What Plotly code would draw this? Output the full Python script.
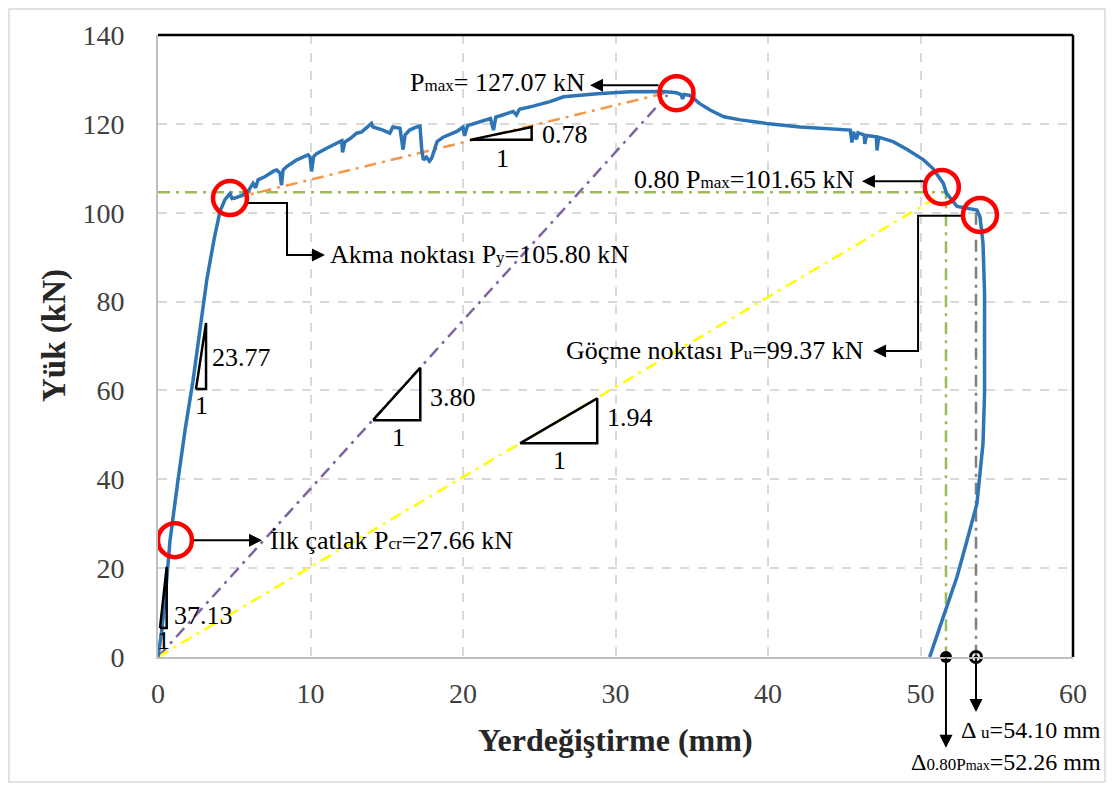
import plotly.graph_objects as go

# ---------------- data ----------------
disp = [0, 0.25, 0.46, 0.79, 1.31, 1.77, 2.3, 2.75, 3.2, 3.67, 4.07, 4.4, 4.72, 4.85, 5.05, 5.49, 5.9,
        6.23, 6.4, 6.56, 7.0, 7.6, 7.78, 8.0, 8.1, 8.2, 8.44, 9.1, 9.84, 9.97, 10.07, 10.2, 10.4,
        11.06, 11.93, 12.05, 12.1, 12.25, 12.6, 13.03, 13.36, 14.0, 14.1, 14.75, 15.2, 15.4, 15.87,
        16.07, 16.2, 16.5, 16.96, 17.18, 17.3, 17.4, 17.6, 17.8, 17.95, 18.3, 18.7, 19.6, 20.0, 20.1,
        20.3, 20.9, 21.8, 22.0, 22.15, 22.6, 23.3, 23.5, 23.7, 24.6, 25.7, 26.6, 28.8, 30.95, 33.1,
        34.0, 34.3, 34.4, 34.5, 34.9, 35.5, 36.2, 37.1, 38.2, 39.9, 42.1, 44.3, 45.4, 45.5, 45.6,
        45.8, 45.9, 46.3, 46.35, 46.45, 47.1, 47.15, 47.25, 48.2, 49.1, 50.2, 50.8, 51.5, 51.7, 52.4,
        53.0, 53.7, 53.9, 54.1, 54.2, 54.2, 54.1, 53.9, 53.7, 53.0, 52.4, 51.5, 50.6]
load = [0, 6, 12.8, 26.3, 39.8, 51, 62.3, 73.6, 84.9, 93.9, 100.4, 103.0, 104.3, 103.2, 103.3, 103.9, 104.8,
        106.6, 105.6, 107.4, 108.1, 109.4, 109.6, 108.9, 106.2, 109.6, 110.4, 111.9, 113.0, 112.5, 109.3, 112.6, 113.3,
        114.5, 116.0, 116.2, 113.6, 115.9, 116.7, 117.9, 118.2, 120.1, 119.3, 118.6, 117.9, 119.3, 119.0,
        114.2, 117.5, 118.6, 119.3, 119.5, 114.0, 111.9, 112.5, 111.6, 112.3, 116.0, 117.0, 118.3, 119.3, 117.3,
        119.6, 120.3, 121.2, 118.6, 121.5, 122.0, 122.8, 122.0, 123.3, 124.0, 125.0, 126.1, 126.8, 127.2, 127.3,
        127.0, 126.6, 125.6, 126.6, 126.4, 124.6, 123.1, 121.6, 120.9, 120.1, 119.3, 118.9, 118.6, 115.8, 118.2,
        116.5, 118.0, 117.5, 115.5, 117.4, 117.1, 114.0, 117.0, 116.0, 114.3, 111.9, 110.0, 106.6, 104.4, 101.4,
        101.0, 100.6, 99.1, 93.1, 81.9, 59.4, 48.1, 40.6, 34.5, 25.6, 18.1, 9.1, 0]

x_ticks = [0, 10, 20, 30, 40, 50, 60]
y_ticks = [0, 20, 40, 60, 80, 100, 120, 140]

# key points
pt_x = [1.11, 4.72, 34.0, 51.4, 53.9]
pt_y = [26.3, 103.3, 126.9, 105.8, 99.5]

# reference lines
orange_x = [4.94, 33.7]
orange_y = [103.2, 127.3]
purple_x = [0, 33.4]
purple_y = [0, 126.5]
yellow_x = [0, 50.95]
yellow_y = [0, 103.2]
d08_x = 51.67      # position of 0.80Pmax vertical line
du_x = 53.64       # position of ultimate vertical line
h08_y = 104.6      # 0.80Pmax horizontal line level
du_top = 100.0

# slope triangles: (x0, x1, y0, y1)
triangles = [(0.13, 0.57, 6.5, 20.3), (2.49, 3.15, 60.3, 75.2), (14.1, 17.2, 53.3, 65.1),
             (23.74, 28.8, 48.1, 58.2), (20.46, 24.5, 116.4, 119.3)]
tri_labels = ["37.13", "23.77", "3.80", "1.94", "0.78"]
tri_label_pos = [(0.92, 9.45), (3.41, 67.5), (17.7, 58.3), (29.31, 53.8), (25.05, 117.7)]
one_pos = [(0.33, 3.8), (2.82, 56.7), (15.74, 49.3), (26.36, 44.3), (22.62, 112.3)]

SERIF = "Liberation Serif, Times New Roman, serif"
FS = 26
def small(t, s=17):
    return f"<span style='font-size:{s}px'>{t}</span>"

fig = go.Figure()
dd = "12px,6px,3px,6px"

# guide lines
fig.add_trace(go.Scatter(x=[0, d08_x, d08_x], y=[h08_y, h08_y, 0], mode="lines",
                         line=dict(color="#9BBB59", width=2.5, dash=dd), hoverinfo="skip"))
fig.add_trace(go.Scatter(x=[du_x, du_x], y=[du_top, 0], mode="lines",
                         line=dict(color="#7F7F7F", width=2.5, dash=dd), hoverinfo="skip"))
fig.add_trace(go.Scatter(x=purple_x, y=purple_y, mode="lines",
                         line=dict(color="#8064A2", width=2.5, dash=dd), hoverinfo="skip"))
fig.add_trace(go.Scatter(x=yellow_x, y=yellow_y, mode="lines",
                         line=dict(color="#FFFF00", width=2.5, dash=dd), hoverinfo="skip"))
fig.add_trace(go.Scatter(x=orange_x, y=orange_y, mode="lines",
                         line=dict(color="#F79646", width=2.5, dash=dd), hoverinfo="skip"))

# main curve
fig.add_trace(go.Scatter(x=disp, y=load, mode="lines",
                         line=dict(color="#2E75B6", width=3.5), hoverinfo="skip"))

# triangles
for (x0, x1, y0, y1) in triangles:
    fig.add_trace(go.Scatter(x=[x0, x1, x1, x0], y=[y0, y0, y1, y0], mode="lines",
                             line=dict(color="black", width=2.5), hoverinfo="skip"))

# connectors
fig.add_trace(go.Scatter(x=[5.84, 8.46, 8.46, 10.5], y=[102.2, 102.2, 90.5, 90.5], mode="lines",
                         line=dict(color="black", width=2), hoverinfo="skip"))
fig.add_trace(go.Scatter(x=[52.79, 49.84, 49.84, 47.3], y=[99.3, 99.3, 68.9, 68.9], mode="lines",
                         line=dict(color="black", width=2), hoverinfo="skip"))

# red circles
fig.add_trace(go.Scatter(x=pt_x, y=pt_y, mode="markers",
                         marker=dict(symbol="circle-open", size=34, color="#FF0000",
                                     line=dict(width=4.5, color="#FF0000")), hoverinfo="skip"))

# bottom dots
fig.add_trace(go.Scatter(x=[d08_x], y=[0], mode="markers", cliponaxis=False,
                         marker=dict(symbol="circle", size=12, color="black"), hoverinfo="skip"))
fig.add_trace(go.Scatter(x=[du_x], y=[0], mode="markers", cliponaxis=False,
                         marker=dict(symbol="circle-open-dot", size=11, color="black",
                                     line=dict(width=3, color="black")), hoverinfo="skip"))

ann = []
def txt(x, y, t, xa="left", xref="x", yref="y", size=FS):
    ann.append(dict(x=x, y=y, xref=xref, yref=yref, text=t, showarrow=False, xanchor=xa,
                    yanchor="middle", font=dict(family=SERIF, size=size, color="black")))
def arrow(x, y, axv, ayv):
    ann.append(dict(x=x, y=y, xref="x", yref="y", ax=axv, ay=ayv, axref="x", ayref="y", text="",
                    showarrow=True, arrowhead=2, arrowsize=1.3, arrowwidth=2, arrowcolor="black"))

arrow(6.82, 26.3, 2.23, 26.3)
arrow(10.95, 90.5, 8.46, 90.5)
arrow(28.33, 128.7, 32.92, 128.7)
arrow(46.16, 107.1, 50.3, 107.1)
arrow(46.89, 68.9, 49.84, 68.9)

# arrows below axis
for xv, yp, dy in [(d08_x, -0.146, -91), (du_x, -0.0884, -55)]:
    ann.append(dict(x=xv, y=yp, xref="x", yref="paper", ax=0, ay=dy, text="", showarrow=True,
                    arrowhead=2, arrowsize=1.3, arrowwidth=2, arrowcolor="black"))

txt(7.21, 26.3, "İlk çatlak P" + small("cr") + "=27.66 kN")
txt(11.15, 90.5, "Akma noktası P" + small("y") + "=105.80 kN")
txt(28.13, 129.3, "P" + small("max") + "= 127.07 kN", xa="right")
txt(45.77, 107.4, "0.80 P" + small("max") + "=101.65 kN", xa="right")
txt(46.43, 69.1, "Göçme noktası P" + small("u") + "=99.37 kN", xa="right")
txt(1.0328, -0.117, "Δ " + small("u") + "=54.10 mm", xa="right", xref="paper", yref="paper", size=24)
txt(1.0328, -0.169, "Δ" + small("0.80P") + small("max", 14) + "=52.26 mm", xa="right", xref="paper",
    yref="paper", size=24)

for lab, (lx, ly) in zip(tri_labels, tri_label_pos):
    txt(lx, ly, lab)
for (ox, oy) in one_pos:
    txt(ox, oy, "1", xa="center")

# axis titles
ann.append(dict(x=0.5, y=-0.1334, xref="paper", yref="paper", text="<b>Yerdeğiştirme (mm)</b>",
                showarrow=False, xanchor="center", yanchor="middle",
                font=dict(family=SERIF, size=32, color="#262626")))
ann.append(dict(x=-0.1126, y=0.5177, xref="paper", yref="paper", text="<b>Yük (kN)</b>",
                showarrow=False, xanchor="center", yanchor="middle", textangle=-90,
                font=dict(family=SERIF, size=33, color="#262626")))

shapes = [
    dict(type="line", xref="paper", yref="paper", x0=0, x1=1, y0=1, y1=1, line=dict(color="black", width=2.5)),
    dict(type="line", xref="paper", yref="paper", x0=1, x1=1, y0=0, y1=1, line=dict(color="black", width=2.5)),
    dict(type="rect", xref="paper", yref="paper", x0=-0.1628, x1=1.035, y0=-0.201, y1=1.0418,
         line=dict(color="#D9D9D9", width=1.5)),
]

fig.update_layout(
    width=1098, height=775, margin=dict(l=150, r=33, t=27, b=126),
    paper_bgcolor="white", plot_bgcolor="white", showlegend=False,
    annotations=ann, shapes=shapes,
    xaxis=dict(range=[0, 60], tickvals=x_ticks, showgrid=True, gridcolor="#D9D9D9", griddash="dash",
               gridwidth=1.5, zeroline=False, showline=True, linecolor="#BFBFBF", linewidth=2,
               ticks="", ticklabelstandoff=10, tickfont=dict(family=SERIF, size=28, color="#404040")),
    yaxis=dict(range=[0, 140], tickvals=y_ticks, showgrid=True, gridcolor="#D9D9D9", griddash="dash",
               gridwidth=1.5, zeroline=False, showline=True, linecolor="#BFBFBF", linewidth=2,
               ticks="", ticklabelstandoff=26, tickfont=dict(family=SERIF, size=28, color="#404040")),
)

fig.write_html("out.html")
